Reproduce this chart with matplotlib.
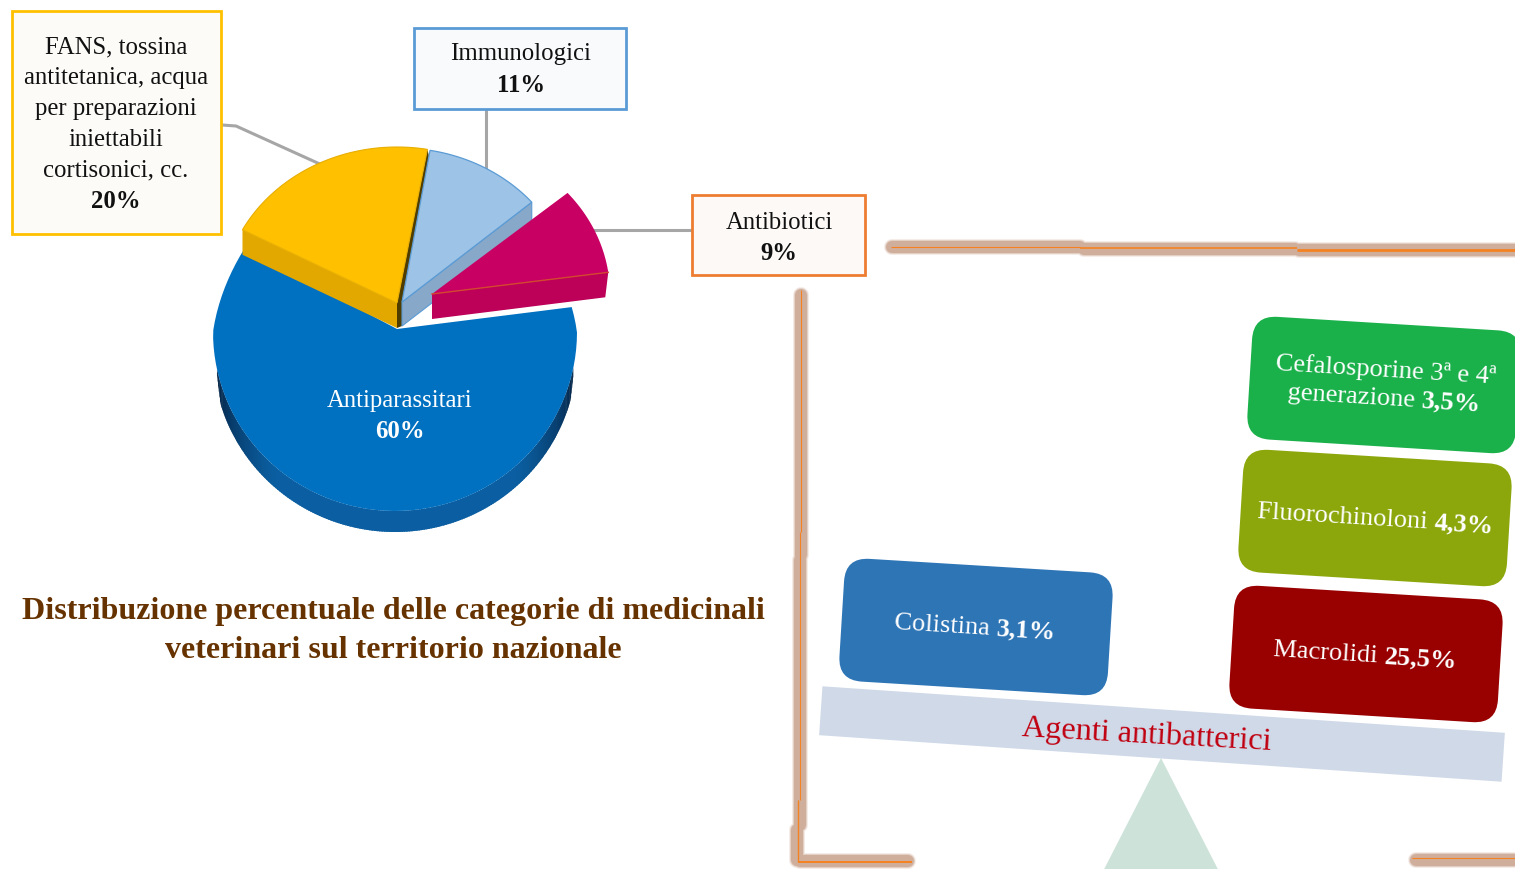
#!/usr/bin/env python3
"""Torta categorie medicinali veterinari + bilancia agenti antibatterici."""
import numpy as np
import matplotlib
matplotlib.use("Agg")
import matplotlib.pyplot as plt
from matplotlib.patches import FancyBboxPatch, Polygon, Rectangle
from matplotlib.transforms import Affine2D

SERIF = "Liberation Serif"

# data
categories = ["Antiparassitari", "Antibiotici", "Immunologici", "FANS"]
shares = [60, 9, 11, 20]
share_labels = ["60%", "9%", "11%", "20%"]
fans_lines = ["FANS, tossina", "antitetanica, acqua", "per preparazioni",
              "iniettabili", "cortisonici, cc."]
title_lines = ["Distribuzione percentuale delle categorie di medicinali",
               "veterinari sul territorio nazionale"]
agents = ["Colistina", "Macrolidi", "Fluorochinoloni"]
agent_labels = ["3,1%", "25,5%", "4,3%"]
cefalo_lines = ["Cefalosporine 3ª e 4ª", "generazione"]
cefalo_label = "3,5%"
beam_label = "Agenti antibatterici"

START_ANGLE = 152.0
TILT = 3.5
LABEL_SIZE = 17.8

fig = plt.figure(figsize=(15.15, 8.69), dpi=100, facecolor="white")
ax = fig.add_axes([0, 0, 1, 1])
ax.set_xlim(0, 1515)
ax.set_ylim(869, 0)
ax.axis("off")


def wedge_angles():
    edges = START_ANGLE + np.cumsum([0] + shares) * 3.6
    return list(zip(edges[:-1], edges[1:]))


def arc(cx, cy, rx, ry, a0, a1, n=80, persp=0.0):
    t = np.radians(np.linspace(a0, a1, n))
    # persp: la parte alta della torta e' piu stretta
    squeeze = 1 - persp * np.clip(np.sin(t), 0, None)
    return np.column_stack([cx + rx * np.cos(t) * squeeze, cy - ry * np.sin(t)])


def poly(pts, color, edge="none", lw=0.0, z=3):
    ax.add_patch(Polygon(pts, closed=True, facecolor=color, edgecolor=edge, linewidth=lw, zorder=z))


def label(x, y, text, color="#111111", weight="normal", size=LABEL_SIZE, z=10):
    ax.text(x, y, text, family=SERIF, fontsize=size, color=color, weight=weight,
            ha="center", va="center", zorder=z)


def blur_frame(segments):
    # bordo sfocato: prima gli aloni di tutti i tratti, poi la fascia piena
    for w, color in [(16, "#f5ece7"), (14, "#e3d0c5"), (12, "#cfae9c")]:
        for xs, ys in segments:
            ax.plot(xs, ys, color=color, lw=w * 0.72, solid_capstyle="round", zorder=1)


def core_line(xs, ys, lw=0.8):
    ax.plot(xs, ys, color="#f58220", lw=lw, solid_capstyle="butt", zorder=2)


# leader lines
for xs, ys in [((222, 236, 322), (125, 126, 165)), ((486, 486), (110, 170)), ((592, 692), (230, 230))]:
    ax.plot(xs, ys, color="#a6a6a6", lw=2.2, zorder=1)

# pie, angles come from the shares
(a_blue0, a_blue1), (a_mag0, a_mag1), (a_lb0, a_lb1), (a_yel0, a_yel1) = wedge_angles()

# blue wedge and its wall
wall_h = 21
steps = np.linspace(192, 348, 200)
dark = np.array([0.02, 0.14, 0.27])
light = np.array([0.04, 0.37, 0.63])
for s0, s1 in zip(steps[:-1], steps[1:]):
    h = wall_h * min(1.0, (s0 - 192) / 6 + 0.3, (348 - s0) / 6 + 0.3)
    top = arc(395, 332, 182, 179, s0, s1 + 0.5, 4)
    mix = np.clip(np.sin(np.radians((s0 - 192) / 156 * 180)) * 1.5, 0, 1)
    poly(np.vstack([top, (top + [0, h])[::-1]]), dark + (light - dark) * mix, z=2)
apex_blue = np.array([397, 329])
poly(np.vstack([apex_blue, arc(395, 332, 182, 179, a_blue0, a_blue1, persp=0.14)]), "#0070c0", z=3)

# yellow
apex_yel = np.array([397, 303])
yel_h = np.array([0, 25])
yel_arc = arc(397, 303, 175, 156, a_yel0, a_yel1)
poly([apex_yel, yel_arc[-1], yel_arc[-1] + yel_h, apex_yel + yel_h], "#e3a800", z=4)
poly(np.vstack([apex_yel, yel_arc]), "#ffc000", edge="#e8ae00", lw=0.8, z=5)

# light blue
apex_lb = np.array([402, 302])
lb_h = np.array([0, 24])
lb_arc = arc(400, 302, 173, 154, a_lb0, a_lb1)
# fessura scura tra giallo e azzurro
poly([apex_yel, yel_arc[0], lb_arc[-1] + [-1, 6], apex_lb, apex_lb + lb_h, apex_yel + yel_h], "#4f3d00", z=4)
poly([apex_lb, lb_arc[0], lb_arc[0] + lb_h, apex_lb + lb_h], "#87a8c8", edge="#5b9bd5", lw=0.8, z=5)
poly(np.vstack([apex_lb, lb_arc]), "#9dc3e6", edge="#5b9bd5", lw=0.9, z=6)

# magenta
apex_mag = np.array([432, 294])
mag_h = np.array([0, 25])
mag_arc = arc(432, 294, 178, 156, a_mag0, a_mag1)
poly([apex_mag, mag_arc[0], mag_arc[0] + mag_h + [-3, 0], apex_mag + mag_h], "#bd0058", z=7)
poly(np.vstack([apex_mag, mag_arc]), "#c80064", z=8)
ax.plot([apex_mag[0], mag_arc[0][0]], [apex_mag[1], mag_arc[0][1]], color="#d2472e", lw=1.0, zorder=8)

label(400, 401, categories[0], color="white")
label(400, 431, share_labels[0], color="white", weight="bold")

# callout boxes
for (x0, y0, x1, y1), edge, face in [((12, 11, 221, 234), "#ffc000", "#fcfbf8"),
                                     ((414, 28, 626, 108.5), "#5b9bd5", "#f8fafc"),
                                     ((692, 195, 865, 275), "#ed7d31", "#fdf9f7")]:
    ax.add_patch(Rectangle((x0, y0), x1 - x0, y1 - y0, facecolor=face, edgecolor=edge, linewidth=2.0, zorder=5))
for i, row in enumerate(fans_lines):
    label(116, 47 + i * 30.9, row)
label(116, 201, share_labels[3], weight="bold")
label(521, 54, categories[2])
label(521, 85, share_labels[2], weight="bold")
label(779, 223, categories[1])
label(779, 254, share_labels[1], weight="bold")

for i, row in enumerate(title_lines):
    label(393, 612 + i * 38, row, color="#663300", weight="bold", size=23)

# frame of the right panel
blur_frame([((892, 1080), (247, 247)), ((1084, 1295), (248.5, 248.5)), ((1299, 1530), (250, 250)),
            ((801, 801), (295, 555)), ((800, 800), (560, 825)), ((797, 797), (830, 860)),
            ((800, 908), (860.5, 860.5)), ((1416, 1530), (860, 860))])
core_line((891, 1080), (247, 247))
core_line((1080, 1297), (248, 248), lw=1.2)
core_line((1297, 1515), (250, 250), lw=2.0)
core_line((800.5, 800.5), (290, 532))
core_line((799.5, 799.5), (532, 800))
core_line((797.5, 797.5), (800, 862), lw=1.0)
core_line((798, 912), (862, 862), lw=1.4)
core_line((1412, 1515), (858, 858))

# fulcrum and beam
ax.add_patch(Polygon([(1161, 758), (1096, 885), (1226, 885)], closed=True, facecolor="#cde3d9", edgecolor="none", zorder=2))
ax.add_patch(Rectangle((1162 - 342, 734 - 24.5), 684, 49, facecolor="#cfd9e8", edgecolor="none", zorder=3,
                       transform=Affine2D().rotate_deg_around(1162, 734, 3.9) + ax.transData))
ax.text(1147, 735, beam_label, family=SERIF, fontsize=23.2, color="#c00010", rotation=-3.2,
        rotation_mode="anchor", ha="center", va="center", zorder=4)


def tilted_box(cx, cy, color, w=269, h=123):
    ax.add_patch(FancyBboxPatch((cx - w / 2, cy - h / 2), w, h, boxstyle="round,pad=0,rounding_size=24",
                                facecolor=color, edgecolor="none", zorder=3,
                                transform=Affine2D().rotate_deg_around(cx, cy, TILT) + ax.transData))


def mixed(x, y, regular, bold, size=19):
    # x, y = junction between the plain part and the bold part, on the baseline
    kw = dict(family=SERIF, fontsize=size, color="white", rotation=-TILT, rotation_mode="anchor", va="baseline", zorder=5)
    ax.text(x, y, regular + " ", ha="right", **kw)
    ax.text(x, y, bold, ha="left", weight="bold", **kw)


tilted_box(976, 627, "#2e75b6")
tilted_box(1366, 654, "#990000")
tilted_box(1375, 518, "#8ca70c")
tilted_box(1384, 385, "#1ab04a")

mixed(996, 635, agents[0], agent_labels[0])
mixed(1384, 663, agents[1], agent_labels[1])
mixed(1434, 529, agents[2], agent_labels[2])
ax.text(1386, 377, cefalo_lines[0], family=SERIF, fontsize=19, color="white", rotation=-TILT,
        rotation_mode="anchor", ha="center", va="baseline", zorder=5)
mixed(1421, 407, cefalo_lines[1], cefalo_label)

fig.savefig("out.png", dpi=100)
